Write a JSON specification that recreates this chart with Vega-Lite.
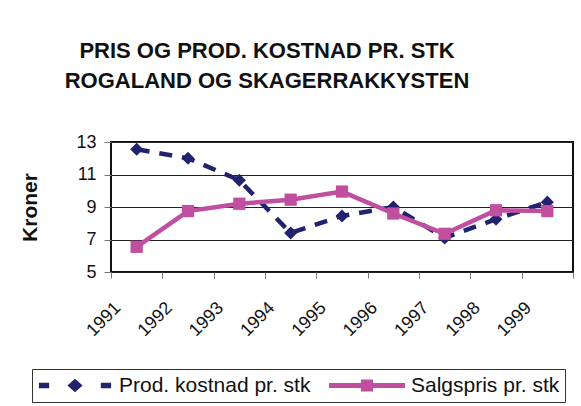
{
  "$schema": "https://vega.github.io/schema/vega-lite/v6.json",
  "width": 462,
  "height": 130,
  "autosize": {"type": "none"},
  "padding": {"left": 111, "top": 142, "right": 8, "bottom": 134},
  "background": "white",
  "title": {
    "text": ["PRIS OG PROD. KOSTNAD PR. STK", "ROGALAND OG SKAGERRAKKYSTEN"],
    "anchor": "middle",
    "frame": "group",
    "font": "Liberation Sans",
    "fontSize": 22,
    "fontWeight": "bold",
    "color": "#111",
    "lineHeight": 30,
    "dx": -75,
    "offset": 40
  },
  "data": {
    "values": [
      {"year": "1991", "series": "Prod. kostnad pr. stk", "value": 12.55},
      {"year": "1992", "series": "Prod. kostnad pr. stk", "value": 12.0},
      {"year": "1993", "series": "Prod. kostnad pr. stk", "value": 10.65},
      {"year": "1994", "series": "Prod. kostnad pr. stk", "value": 7.4},
      {"year": "1995", "series": "Prod. kostnad pr. stk", "value": 8.45},
      {"year": "1996", "series": "Prod. kostnad pr. stk", "value": 9.0},
      {"year": "1997", "series": "Prod. kostnad pr. stk", "value": 7.1},
      {"year": "1998", "series": "Prod. kostnad pr. stk", "value": 8.25},
      {"year": "1999", "series": "Prod. kostnad pr. stk", "value": 9.3},
      {"year": "1991", "series": "Salgspris pr. stk", "value": 6.55},
      {"year": "1992", "series": "Salgspris pr. stk", "value": 8.75},
      {"year": "1993", "series": "Salgspris pr. stk", "value": 9.2},
      {"year": "1994", "series": "Salgspris pr. stk", "value": 9.45},
      {"year": "1995", "series": "Salgspris pr. stk", "value": 9.95},
      {"year": "1996", "series": "Salgspris pr. stk", "value": 8.6},
      {"year": "1997", "series": "Salgspris pr. stk", "value": 7.35},
      {"year": "1998", "series": "Salgspris pr. stk", "value": 8.8},
      {"year": "1999", "series": "Salgspris pr. stk", "value": 8.75}
    ]
  },
  "encoding": {
    "x": {
      "field": "year",
      "type": "ordinal",
      "scale": {"paddingInner": 0, "paddingOuter": 0},
      "axis": {
        "title": null,
        "domain": false,
        "tickBand": "extent",
        "tickSize": 6,
        "tickColor": "#777",
        "labelAngle": -45,
        "labelAlign": "right",
        "labelBaseline": "middle",
        "labelOffset": -19,
        "labelPadding": 27,
        "labelFont": "Liberation Sans",
        "labelFontSize": 18,
        "labelColor": "#111"
      }
    },
    "y": {
      "field": "value",
      "type": "quantitative",
      "scale": {"domain": [5, 13], "nice": false, "zero": false},
      "axis": {
        "values": [5, 7, 9, 11, 13],
        "title": "Kroner",
        "titleFont": "Liberation Sans",
        "titleFontSize": 21,
        "titleFontWeight": "bold",
        "titleColor": "#111",
        "titleAngle": -90,
        "titleX": -81,
        "titleY": 65,
        "titleAlign": "center",
        "titleBaseline": "middle",
        "domain": false,
        "grid": true,
        "gridColor": "#222",
        "gridWidth": 1,
        "tickSize": 7,
        "tickColor": "#777",
        "labelPadding": 8,
        "labelFont": "Liberation Sans",
        "labelFontSize": 18,
        "labelColor": "#111"
      }
    }
  },
  "layer": [
    {
      "transform": [{"filter": "datum.series === 'Prod. kostnad pr. stk'"}],
      "mark": {"type": "line", "strokeWidth": 4.5, "color": "#22236F", "strokeDash": [13, 10]}
    },
    {
      "transform": [{"filter": "datum.series === 'Prod. kostnad pr. stk'"}],
      "mark": {"type": "point", "filled": true, "opacity": 1, "size": 170, "shape": "diamond", "color": "#22236F"}
    },
    {
      "transform": [{"filter": "datum.series === 'Salgspris pr. stk'"}],
      "mark": {"type": "line", "strokeWidth": 4.5, "color": "#C04FA0"}
    },
    {
      "transform": [{"filter": "datum.series === 'Salgspris pr. stk'"}],
      "mark": {"type": "point", "filled": true, "opacity": 1, "size": 150, "shape": "square", "color": "#C04FA0"}
    },
    {
      "mark": {"type": "point", "filled": true, "opacity": 0, "size": 10},
      "encoding": {
        "color": {
          "field": "series",
          "type": "nominal",
          "scale": {
            "domain": ["Prod. kostnad pr. stk", "Salgspris pr. stk"],
            "range": ["#22236F", "#C04FA0"]
          },
          "legend": {
            "title": null,
            "orient": "none",
            "direction": "horizontal",
            "legendX": -79,
            "legendY": 227,
            "padding": 5,
            "strokeColor": "#333",
            "labelFont": "Liberation Sans",
            "labelFontSize": 21,
            "labelColor": "#111",
            "labelLimit": 0,
            "labelOffset": 6,
            "columnPadding": 18,
            "symbolSize": 5776,
            "symbolOpacity": 1,
            "symbolStrokeWidth": 0,
            "clipHeight": 23
          }
        },
        "shape": {
          "field": "series",
          "type": "nominal",
          "scale": {
            "domain": ["Prod. kostnad pr. stk", "Salgspris pr. stk"],
            "range": [
              "M-0.95,-0.07H-0.68V0.07H-0.95Z M0,-0.18L0.2,0L0,0.18L-0.2,0Z M0.68,-0.07H0.95V0.07H0.68Z",
              "M-1,-0.065H1V0.065H-1Z M-0.16,-0.16H0.16V0.16H-0.16Z"
            ]
          },
          "legend": {
            "title": null,
            "orient": "none",
            "direction": "horizontal",
            "legendX": -79,
            "legendY": 227,
            "padding": 5,
            "strokeColor": "#333",
            "labelFont": "Liberation Sans",
            "labelFontSize": 21,
            "labelColor": "#111",
            "labelLimit": 0,
            "labelOffset": 6,
            "columnPadding": 18,
            "symbolSize": 5776,
            "symbolOpacity": 1,
            "symbolStrokeWidth": 0,
            "clipHeight": 23
          }
        }
      }
    }
  ],
  "config": {
    "view": {"stroke": "#111", "strokeWidth": 2},
    "legend": {"strokeColor": "#333"}
  }
}
